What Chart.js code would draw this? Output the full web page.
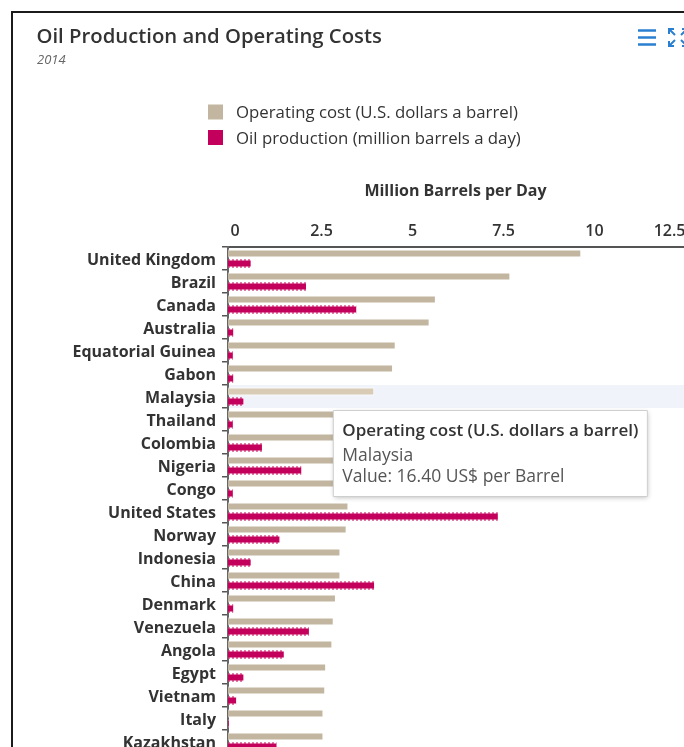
<!DOCTYPE html>
<html>
<head>
<meta charset="utf-8">
<title>Oil Production and Operating Costs</title>
<script src="https://cdn.jsdelivr.net/npm/chart.js@4.4.1/dist/chart.umd.min.js"></script>
<style>
  html, body { margin: 0; padding: 0; background: #ffffff; overflow: hidden; width: 684px; height: 747px; }
  #frame { position: absolute; left: 11px; top: 11px; width: 760px; height: 800px;
           border-left: 2px solid #1b1b1b; border-top: 2px solid #1b1b1b; }
  #wrap { position: absolute; left: 0; top: 0; width: 700px; height: 760px; }
</style>
</head>
<body>
<div id="frame"></div>
<div id="wrap"><canvas id="chart" width="700" height="760"></canvas></div>
<script>
// ---- data (2014) ----
const countries = [
  'United Kingdom', 'Brazil', 'Canada', 'Australia', 'Equatorial Guinea', 'Gabon',
  'Malaysia', 'Thailand', 'Colombia', 'Nigeria', 'Congo', 'United States', 'Norway',
  'Indonesia', 'China', 'Denmark', 'Venezuela', 'Angola', 'Egypt', 'Vietnam', 'Italy',
  'Kazakhstan'
];
// U.S. dollars a barrel
const operatingCost = [
  39.6, 31.65, 23.3, 22.6, 18.8, 18.5,
  16.40, 15.9, 15.4, 14.8, 14.1, 13.5, 13.3,
  12.6, 12.6, 12.1, 11.85, 11.7, 11.0, 10.9, 10.7,
  10.7
];
// million barrels a day
const oilProduction = [
  0.65, 2.17, 3.55, 0.17, 0.16, 0.17,
  0.45, 0.16, 0.96, 2.04, 0.16, 7.44, 1.44,
  0.65, 4.04, 0.17, 2.25, 1.56, 0.45, 0.25, 0.04,
  1.36
];
const productionTicks = [0, 2.5, 5, 7.5, 10, 12.5];
const costAxisMax = 51;
const highlightIndex = 6;

const chartTitle = 'Oil Production and Operating Costs';
const chartSubtitle = '2014';
const axisTitle = 'Million Barrels per Day';
const seriesLabels = ['Operating cost (U.S. dollars a barrel)', 'Oil production (million barrels a day)'];

// ---- styling ----
const costColor = '#c2b6a0';
const costHoverColor = '#d8ccb6';
const productionColor = '#c3005b';
const legendColors = [costColor, productionColor];
const iconColor = '#2a7fd0';
const FONT = '"Open Sans", "Noto Sans", sans-serif';

// tooltip sits just below and left of the end of the hovered bar
Chart.Tooltip.positioners.besideBar = function (items) {
  if (!items.length) return false;
  const el = items[0].element;
  return { x: el.x - 41, y: el.y + 19 };
};

const decorations = {
  id: 'decorations',
  beforeDatasetsDraw(chart) {
    // hover band behind the highlighted category
    const { ctx, chartArea, scales: { y } } = chart;
    const c = y.getPixelForValue(highlightIndex);
    const half = Math.abs(y.getPixelForValue(1) - y.getPixelForValue(0)) / 2;
    ctx.save();
    ctx.fillStyle = '#f0f3f9';
    ctx.fillRect(chartArea.left + 1, c - half, chart.width - chartArea.left, half * 2);
    ctx.restore();
  },
  afterDatasetsDraw(chart) {
    // dotted top and bottom edges on the production bars
    const { ctx } = chart;
    const meta = chart.getDatasetMeta(1);
    ctx.save();
    ctx.setLineDash([2, 2]);
    ctx.strokeStyle = productionColor;
    ctx.lineWidth = 1;
    meta.data.forEach(bar => {
      const { x, y, base, height } = bar.getProps(['x', 'y', 'base', 'height'], true);
      const top = y - height / 2 + 0.5;
      const bottom = y + height / 2 - 0.5;
      ctx.beginPath();
      ctx.moveTo(base, top); ctx.lineTo(x - 1, top);
      ctx.moveTo(base, bottom); ctx.lineTo(x - 1, bottom);
      ctx.stroke();
    });
    ctx.restore();
  },
  beforeTooltipDraw(chart, args) {
    const tt = args.tooltip;
    const { ctx } = chart;
    ctx.save();
    ctx.shadowColor = 'rgba(0,0,0,0.28)';
    ctx.shadowBlur = 5;
    ctx.shadowOffsetX = 1;
    ctx.shadowOffsetY = 2;
    ctx.fillStyle = '#ffffff';
    ctx.fillRect(tt.x, tt.y, tt.width, tt.height);
    ctx.restore();
  },
  afterDraw(chart) {
    const { ctx } = chart;
    ctx.save();
    ctx.textBaseline = 'middle';
    ctx.textAlign = 'left';
    // title + subtitle
    ctx.fillStyle = '#333333';
    ctx.font = '600 20.3px ' + FONT;
    ctx.fillText(chartTitle, 36.5, 37.5);
    ctx.fillStyle = '#666666';
    ctx.font = 'italic 13px ' + FONT;
    ctx.fillText(chartSubtitle, 37, 60);
    // legend, one item per row
    ctx.font = '16.8px ' + FONT;
    chart.data.datasets.forEach((ds, i) => {
      const cy = 112 + i * 25.5;
      ctx.fillStyle = legendColors[i];
      ctx.fillRect(208, cy - 7.5, 15, 15);
      ctx.fillStyle = '#333333';
      ctx.fillText(ds.label, 236, cy + 1.5);
    });
    // menu icon
    ctx.strokeStyle = iconColor;
    ctx.lineWidth = 2.5;
    ctx.lineCap = 'butt';
    [30.5, 37.5, 44.5].forEach(y => {
      ctx.beginPath(); ctx.moveTo(638, y); ctx.lineTo(656, y); ctx.stroke();
    });
    // full-screen icon
    ctx.lineWidth = 2;
    const L = 669, R = 687, T = 29, B = 46;
    const corner = (cx, cy, dx, dy) => {
      ctx.beginPath();
      ctx.moveTo(cx + dx * 5, cy); ctx.lineTo(cx, cy); ctx.lineTo(cx, cy + dy * 5);
      ctx.moveTo(cx, cy); ctx.lineTo(cx + dx * 6, cy + dy * 6);
      ctx.stroke();
    };
    corner(L, T, 1, 1); corner(R, T, -1, 1); corner(L, B, 1, -1); corner(R, B, -1, -1);
    ctx.restore();
  }
};

const chart = new Chart(document.getElementById('chart'), {
  type: 'bar',
  data: {
    labels: countries,
    datasets: [
      {
        label: seriesLabels[0],
        data: operatingCost,
        xAxisID: 'x2',
        backgroundColor: countries.map((_, i) => i === highlightIndex ? costHoverColor : costColor),
        borderColor: '#ffffff',
        borderWidth: 1,
        categoryPercentage: 0.87,
        barPercentage: 0.8
      },
      {
        label: seriesLabels[1],
        data: oilProduction,
        xAxisID: 'x',
        backgroundColor: productionColor,
        borderColor: '#ffffff',
        borderWidth: 1,
        categoryPercentage: 0.87,
        barPercentage: 0.8
      }
    ]
  },
  options: {
    indexAxis: 'y',
    responsive: false,
    animation: false,
    events: [],
    layout: { padding: { top: 170, left: 0, right: 17, bottom: 7 } },
    scales: {
      x: {
        type: 'linear',
        position: 'top',
        min: productionTicks[0],
        max: productionTicks[productionTicks.length - 1],
        afterBuildTicks(scale) { scale.ticks = productionTicks.map(value => ({ value })); },
        afterFit(scale) { scale.height = 77; },
        grid: { display: false, drawTicks: false },
        border: { display: true, color: '#555555', width: 2 },
        ticks: {
          align: 'inner', labelOffset: 2.5, padding: 6, color: '#333333',
          font: { family: FONT, size: 16, weight: '600' }
        },
        title: {
          display: true, text: axisTitle, color: '#333333',
          font: { family: FONT, size: 16, weight: 'bold' },
          padding: { top: 12, bottom: 0 }
        }
      },
      x2: { type: 'linear', display: false, min: 0, max: costAxisMax },
      y: {
        type: 'category',
        afterFit(scale) {
          scale.width = 228;
          // category bands fill the plot height; no extra room for half labels
          scale.paddingTop = 0;
          scale.paddingBottom = 0;
        },
        grid: { drawOnChartArea: false, drawTicks: true, tickLength: 6, color: '#555555', lineWidth: 1.5, offset: true },
        border: { color: '#666666', width: 2 },
        ticks: {
          autoSkip: false, padding: 6, labelOffset: 1.5, color: '#333333',
          font: { family: FONT, size: 16, weight: 'bold' }
        }
      }
    },
    plugins: {
      legend: { display: false },
      title: { display: false },
      tooltip: {
        enabled: true,
        position: 'besideBar',
        xAlign: 'left', yAlign: 'top',
        caretSize: 0, caretPadding: 0, cornerRadius: 0,
        displayColors: false,
        backgroundColor: '#ffffff',
        borderColor: '#cfcfcf', borderWidth: 1,
        titleColor: '#333333', bodyColor: '#555555',
        titleFont: { family: FONT, size: 17, weight: '600', lineHeight: 1.176 },
        bodyFont: { family: FONT, size: 17.5, lineHeight: 1.2 },
        titleMarginBottom: 4, titleSpacing: 0, bodySpacing: 0,
        padding: { top: 11, bottom: 9, left: 9, right: 9 },
        callbacks: {
          title: items => items[0].dataset.label,
          label: ctx => [ctx.label, 'Value: ' + Number(ctx.raw).toFixed(2) + ' US$ per Barrel']
        }
      }
    }
  },
  plugins: [decorations]
});

chart.tooltip.setActiveElements([{ datasetIndex: 0, index: highlightIndex }], { x: 0, y: 0 });
chart.draw();
</script>
</body>
</html>
